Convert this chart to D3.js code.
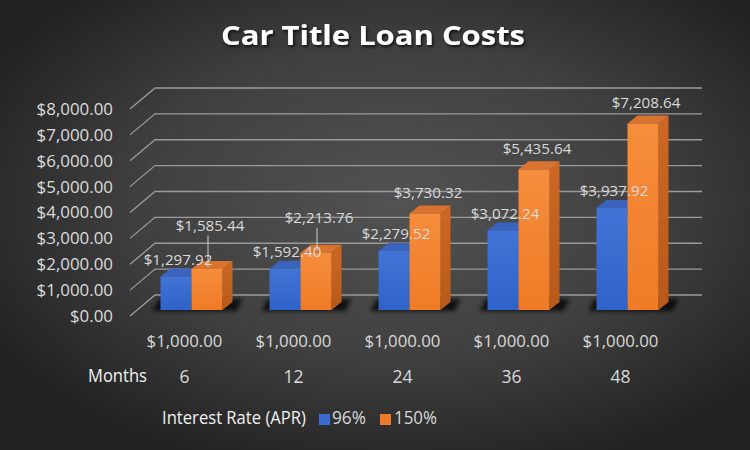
<!DOCTYPE html>
<html>
<head>
<meta charset="utf-8">
<script src="https://cdn.jsdelivr.net/npm/d3@7"></script>
<style>
  html, body { margin: 0; padding: 0; background: #2a2a2a; }
  svg { display: block; font-family: "Open Sans", "Noto Sans", sans-serif; }
</style>
</head>
<body>
<svg id="chart" width="750" height="450"></svg>
<script>
// ---- data ----
const months = ["6", "12", "24", "36", "48"];
const principal = [1000, 1000, 1000, 1000, 1000];
const seriesNames = ["96%", "150%"];
const apr96 = [1297.92, 1592.40, 2279.52, 3072.24, 3937.92];
const apr150 = [1585.44, 2213.76, 3730.32, 5435.64, 7208.64];
const yTicks = [0, 1000, 2000, 3000, 4000, 5000, 6000, 7000, 8000];
const titleText = "Car Title Loan Costs";
const rowLabel = "Months";
const legendTitle = "Interest Rate (APR)";

// ---- setup ----
const W = 750, H = 450;
const svg = d3.select("#chart");
const defs = svg.append("defs");

const bg = defs.append("radialGradient").attr("id", "bg")
  .attr("cx", "0.53").attr("cy", "0.45").attr("r", "0.62");
bg.append("stop").attr("offset", "0").attr("stop-color", "#525252");
bg.append("stop").attr("offset", "0.55").attr("stop-color", "#404040");
bg.append("stop").attr("offset", "1").attr("stop-color", "#222222");

const gradBlue = defs.append("linearGradient").attr("id", "gBlue").attr("x1", 0).attr("y1", 0).attr("x2", 0).attr("y2", 1);
gradBlue.append("stop").attr("offset", "0").attr("stop-color", "#4174d6");
gradBlue.append("stop").attr("offset", "1").attr("stop-color", "#3063c8");
const gradOrange = defs.append("linearGradient").attr("id", "gOrange").attr("x1", 0).attr("y1", 0).attr("x2", 0).attr("y2", 1);
gradOrange.append("stop").attr("offset", "0").attr("stop-color", "#f68d3c");
gradOrange.append("stop").attr("offset", "1").attr("stop-color", "#ef7b26");
const gradOrangeSide = defs.append("linearGradient").attr("id", "gOrangeSide").attr("x1", 0).attr("y1", 0).attr("x2", 0).attr("y2", 1);
gradOrangeSide.append("stop").attr("offset", "0").attr("stop-color", "#cd6822");
gradOrangeSide.append("stop").attr("offset", "1").attr("stop-color", "#b8591a");

const blur = defs.append("filter").attr("id", "blur").attr("x", "-20%").attr("y", "-50%").attr("width", "140%").attr("height", "200%");
blur.append("feGaussianBlur").attr("stdDeviation", 2.2);

const tshadow = defs.append("filter").attr("id", "tshadow").attr("x", "-10%").attr("y", "-30%").attr("width", "120%").attr("height", "160%");
tshadow.append("feDropShadow").attr("dx", 1.5).attr("dy", 2).attr("stdDeviation", 1.5).attr("flood-color", "#000").attr("flood-opacity", 0.7);

svg.append("rect").attr("width", W).attr("height", H).attr("fill", "url(#bg)");

// ---- scales ----
const y = d3.scaleLinear().domain([0, 8000]).range([316, 109]);
const x = d3.scaleBand().domain(months).range([130, 675]);
const inner = d3.scaleBand().domain(seriesNames).range([0, 62]);
const depth = { dx: 25, dy: -21 };        // full depth of the chart box
const barPlane = { dx: 7, dy: -6 };        // front plane of the bars
const barDepth = { dx: 10, dy: -8 };       // depth of each bar
const gridRight = 702;

// ---- gridlines ----
const grid = svg.append("g");
grid.selectAll("path").data(yTicks).join("path")
  .attr("d", v => {
    const y0 = y(v);
    return `M${x.range()[0]},${y0}L${x.range()[0] + depth.dx},${y0 + depth.dy}L${gridRight},${y0 + depth.dy}`;
  })
  .attr("fill", "none").attr("stroke", "#9a9a9a").attr("stroke-width", 1.3);

// ---- y axis ----
const yAxis = d3.axisLeft(y).tickValues(yTicks).tickFormat(d3.format("$,.2f")).tickSize(0).tickPadding(17);
const ga = svg.append("g").attr("transform", `translate(${x.range()[0]},0)`).call(yAxis);
ga.select(".domain").remove();
ga.selectAll("text").attr("fill", "#dcdcdc").attr("font-size", "16.9px").attr("font-family", "'Open Sans', sans-serif");

// ---- bars ----
const groups = months.map((m, i) => ({ m, i, vals: [apr96[i], apr150[i]] }));
const gx = m => x(m) + x.bandwidth() / 2 - 31 + barPlane.dx;
const yb = v => y(v) + barPlane.dy;

const barsG = svg.append("g");
// floor shadows
barsG.selectAll("path.shadow").data(groups).join("path").attr("class", "shadow")
  .attr("d", g => {
    const l = gx(g.m) - 8, r = gx(g.m) + 62 + barDepth.dx + 4, b = yb(0) + 1;
    return `M${l},${b}L${r},${b}L${r + 6},${b - 12}L${l + 6},${b - 12}Z`;
  })
  .attr("fill", "#000").attr("opacity", 0.75).attr("filter", "url(#blur)");

groups.forEach(g => {
  const gg = barsG.append("g");
  seriesNames.forEach((s, si) => {
    const v = g.vals[si];
    const x0 = gx(g.m) + inner(s), w = inner.bandwidth();
    const yt = yb(v), ybot = yb(0);
    const isBlue = si === 0;
    // side
    gg.append("path")
      .attr("d", `M${x0 + w},${ybot}L${x0 + w + barDepth.dx},${ybot + barDepth.dy}L${x0 + w + barDepth.dx},${yt + barDepth.dy}L${x0 + w},${yt}Z`)
      .attr("fill", isBlue ? "#2a55a8" : "url(#gOrangeSide)");
    // top
    gg.append("path")
      .attr("d", `M${x0},${yt}L${x0 + w},${yt}L${x0 + w + barDepth.dx},${yt + barDepth.dy}L${x0 + barDepth.dx},${yt + barDepth.dy}Z`)
      .attr("fill", isBlue ? "#3a64bb" : "#db7330");
    // front
    gg.append("rect").attr("x", x0).attr("y", yt).attr("width", w).attr("height", ybot - yt)
      .attr("fill", isBlue ? "url(#gBlue)" : "url(#gOrange)");
  });
});

// ---- data labels ----
const fmt = d3.format("$,.2f");
const labelsG = svg.append("g").attr("font-size", "15.2px").attr("fill", "#d9d9d9").attr("text-anchor", "middle");
groups.forEach(g => {
  const bx = gx(g.m) + inner(seriesNames[0]) + inner.bandwidth() / 2 + 2;
  const ox = gx(g.m) + inner(seriesNames[1]) + inner.bandwidth() / 2 + 3;
  const by = yb(g.vals[0]) - 17;
  let oy = yb(g.vals[1]) - 21;
  let moved = false;
  if (by - oy < 30) { oy = by - 34; moved = true; }
  if (moved) {
    labelsG.append("line").attr("x1", ox - 2).attr("x2", ox - 2)
      .attr("y1", oy + 10).attr("y2", yb(g.vals[1]) - 2)
      .attr("stroke", "#cfcfcf").attr("stroke-width", 1);
  }
  labelsG.append("text").attr("x", bx).attr("y", by).attr("dy", "0.35em").text(fmt(g.vals[0]));
  labelsG.append("text").attr("x", ox).attr("y", oy).attr("dy", "0.35em").text(fmt(g.vals[1]));
});

// ---- category rows ----
const catG = svg.append("g").attr("text-anchor", "middle").attr("fill", "#d9d9d9");
catG.selectAll("text.principal").data(months).join("text").attr("class", "principal")
  .attr("x", m => x(m) + x.bandwidth() / 2).attr("y", 341).attr("dy", "0.35em")
  .attr("font-size", "16.8px")
  .text((m, i) => fmt(principal[i]));
catG.selectAll("text.month").data(months).join("text").attr("class", "month")
  .attr("x", m => x(m) + x.bandwidth() / 2).attr("y", 377).attr("dy", "0.35em")
  .attr("font-size", "17.5px")
  .text(m => m);
svg.append("text").attr("x", 147).attr("y", 376).attr("dy", "0.35em").attr("text-anchor", "end")
  .attr("fill", "#f2f2f2").attr("font-size", "18px").attr("textLength", 59).attr("lengthAdjust", "spacingAndGlyphs")
  .text(rowLabel);

// ---- legend ----
const lg = svg.append("g");
lg.append("text").attr("x", 162).attr("y", 418).attr("dy", "0.35em").attr("fill", "#f0f0f0")
  .attr("font-size", "18px").attr("textLength", 144).attr("lengthAdjust", "spacingAndGlyphs").text(legendTitle);
const legendItems = [
  { name: seriesNames[0], color: "#3a6ccf", sx: 319, tx: 332, tw: 34 },
  { name: seriesNames[1], color: "#ef7b2a", sx: 380, tx: 394, tw: 43 }
];
legendItems.forEach(it => {
  lg.append("rect").attr("x", it.sx).attr("y", 414).attr("width", 11).attr("height", 11).attr("fill", it.color);
  lg.append("text").attr("x", it.tx).attr("y", 418).attr("dy", "0.35em").attr("fill", "#d9d9d9")
    .attr("font-size", "18px").attr("textLength", it.tw).attr("lengthAdjust", "spacingAndGlyphs").text(it.name);
});

// ---- title ----
svg.append("text").attr("x", 373).attr("y", 45).attr("text-anchor", "middle")
  .attr("fill", "#ffffff").attr("font-weight", 700).attr("font-size", "26px")
  .attr("textLength", 304).attr("lengthAdjust", "spacingAndGlyphs")
  .attr("filter", "url(#tshadow)")
  .text(titleText);
</script>
</body>
</html>
